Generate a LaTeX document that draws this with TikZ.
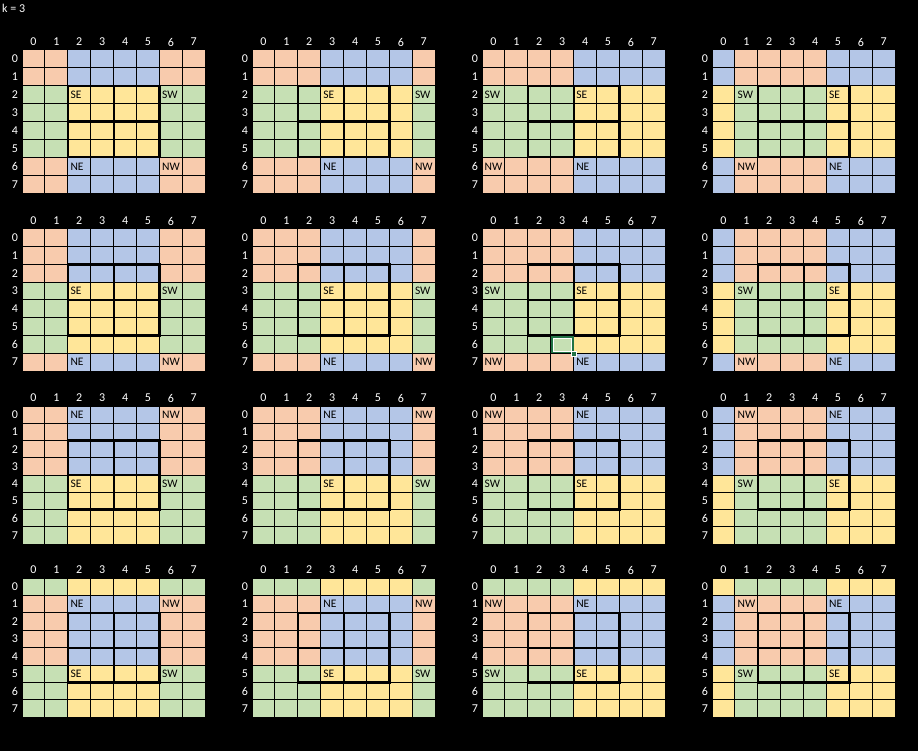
\documentclass[tikz,border=0pt]{standalone}
\usepackage{fontspec}
\setmainfont{Carlito}
\definecolor{cOr}{HTML}{F8CBAD}
\definecolor{cBl}{HTML}{B4C6E7}
\definecolor{cGr}{HTML}{C6E0B4}
\definecolor{cYe}{HTML}{FFE699}
\definecolor{xlgreen}{HTML}{217346}
\colorlet{q0}{cYe}
\colorlet{q1}{cGr}
\colorlet{q2}{cBl}
\colorlet{q3}{cOr}
\tikzset{
  cellbox/.style={draw=black, line width=1pt},
  thickline/.style={draw=black, line width=2.2pt},
  hdr/.style={text=white, font=\fontsize{12}{14}\selectfont, inner sep=0pt},
  quadlbl/.style={text=black, font=\fontsize{11.5}{13}\selectfont, inner sep=0pt, anchor=west},
}
\begin{document}
\begin{tikzpicture}[x=1pt,y=-1pt]
\fill[black] (0,0) rectangle (918,751);
\useasboundingbox (0,0) rectangle (918,751);
\node[hdr, anchor=west] (ktitle) at (2,8) {k = 3};
\def\cw{22.9}
\foreach \i/\gy/\rh in {0/50/17.9, 1/229/17.75, 2/406/17.25, 3/578/17.4} {
  \foreach \j/\gx in {0/22, 1/252, 2/482, 3/712} {
    \pgfmathtruncatemacro{\R}{2+\i}
    \pgfmathtruncatemacro{\C}{2+\j}
    \pgfmathtruncatemacro{\Rp}{mod(\R+4,8)}
    \pgfmathtruncatemacro{\Cp}{mod(\C+4,8)}
    \foreach \r in {0,...,7} {
      \foreach \c in {0,...,7} {
        \pgfmathtruncatemacro{\dr}{mod(\r-\R+8,8)}
        \pgfmathtruncatemacro{\dc}{mod(\c-\C+8,8)}
        \pgfmathtruncatemacro{\q}{(\dr>3)*2+(\dc>3)}
        \filldraw[cellbox, fill=q\q] ({\gx+\c*\cw},{\gy+\r*\rh}) rectangle ++(\cw,\rh);
      }
    }
    % thick 4x4 block with 2x2 subdivision
    \draw[thickline] ({\gx+2*\cw},{\gy+2*\rh}) rectangle ({\gx+6*\cw},{\gy+6*\rh});
    \draw[thickline] ({\gx+4*\cw},{\gy+2*\rh}) -- ({\gx+4*\cw},{\gy+6*\rh});
    \draw[thickline] ({\gx+2*\cw},{\gy+4*\rh}) -- ({\gx+6*\cw},{\gy+4*\rh});
    % headers
    \foreach \c in {0,...,7} {
      \node[hdr] (ch-\i-\j-\c) at ({\gx+(\c+0.5)*\cw},{\gy-8}) {\c};
      \node[hdr] (rh-\i-\j-\c) at ({\gx-7},{\gy+(\c+0.5)*\rh}) {\c};
    }
    % quadrant labels
    \node[quadlbl] (se-\i-\j) at ({\gx+\C*\cw+2.5},{\gy+(\R+0.5)*\rh}) {SE};
    \node[quadlbl] (sw-\i-\j) at ({\gx+\Cp*\cw+2.5},{\gy+(\R+0.5)*\rh}) {SW};
    \node[quadlbl] (ne-\i-\j) at ({\gx+\C*\cw+2.5},{\gy+(\Rp+0.5)*\rh}) {NE};
    \node[quadlbl] (nw-\i-\j) at ({\gx+\Cp*\cw+2.5},{\gy+(\Rp+0.5)*\rh}) {NW};
  }
}
% selected-cell cursor (grid row 1, column 2; cell row 6, col 3)
\draw[xlgreen, line width=2pt] (551.7,336.5) rectangle (572.6,352.3);
\draw[white, line width=0.6pt] (553.2,338.0) rectangle (571.1,350.8);
\filldraw[fill=xlgreen, draw=white, line width=0.6pt] (571.1,350.8) rectangle (576.1,355.8);
\end{tikzpicture}
\end{document}
